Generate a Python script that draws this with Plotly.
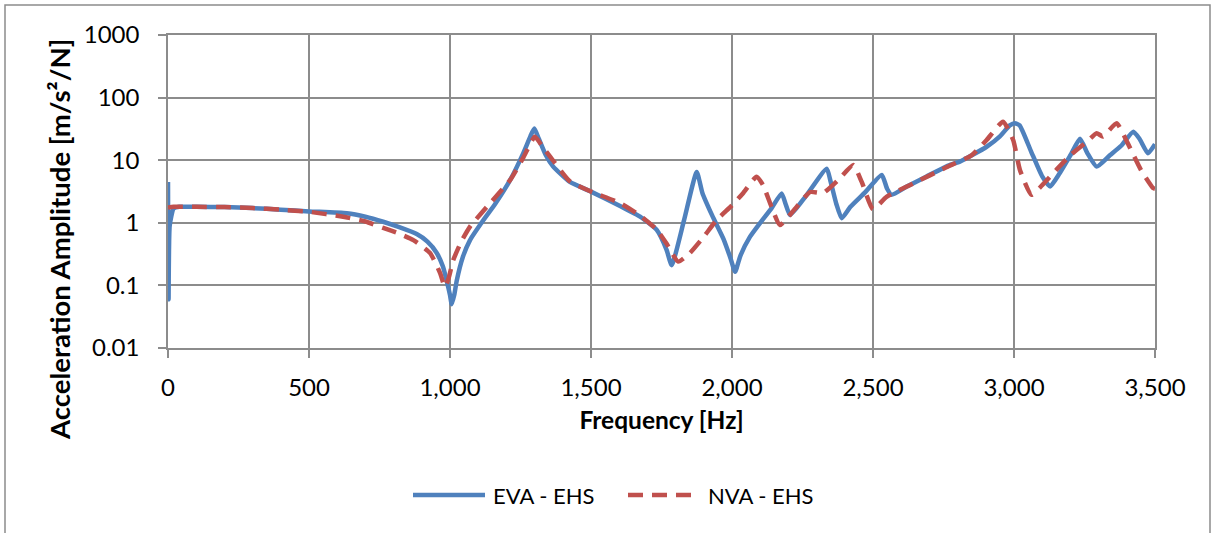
import plotly.graph_objects as go

# ---- data ----
eva_freq = [0, 2, 6, 20, 40, 100, 200, 300, 400, 500, 634, 700, 763, 820, 882, 920, 953, 975, 988,
            1000, 1006, 1015, 1024, 1045, 1071, 1118, 1160, 1213, 1260, 1285, 1299, 1315, 1340, 1366,
            1425, 1500, 1603, 1674, 1733, 1768, 1786, 1830, 1875, 1895, 1930, 1970, 1995, 2011, 2030,
            2064, 2100, 2140, 2176, 2190, 2206, 2260, 2336, 2350, 2370, 2389, 2420, 2470, 2531, 2550,
            2566, 2620, 2690, 2773, 2808, 2903, 2950, 2985, 3003, 3020, 3060, 3100, 3128, 3160, 3200,
            3234, 3260, 3293, 3340, 3380, 3423, 3445, 3475, 3500]
eva_amp = [4.5, 0.06, 0.9, 1.7, 1.8, 1.8, 1.78, 1.72, 1.62, 1.52, 1.42, 1.25, 1.04, 0.85, 0.66, 0.5,
           0.33, 0.2, 0.12, 0.07, 0.05, 0.07, 0.12, 0.28, 0.53, 1.1, 2.0, 4.8, 13, 24, 32, 22, 12, 7.9,
           4.5, 3.15, 1.85, 1.25, 0.77, 0.37, 0.21, 1.1, 6.5, 3.0, 1.3, 0.55, 0.27, 0.165, 0.3,
           0.6, 1.0, 1.7, 2.95, 2.0, 1.33, 2.6, 7.3, 4.5, 2.0, 1.18, 1.8, 3.0, 5.8, 3.5,
           2.8, 3.8, 5.5, 8.4, 9.5, 16.4, 24, 36, 39, 36, 14, 5.5, 3.8, 6, 12,
           22, 13, 7.9, 12, 17, 28.5, 22, 12.9, 18]

nva_freq = [0, 20, 100, 200, 300, 400, 500, 621, 700, 763, 820, 870, 929, 965, 982, 995, 1011, 1040,
            1071, 1142, 1213, 1260, 1301, 1330, 1355, 1425, 1500, 1603, 1674, 1733, 1770, 1809, 1851,
            1900, 1945, 2000, 2040, 2087, 2110, 2140, 2170, 2220, 2277, 2323, 2380, 2430, 2460, 2500,
            2548, 2654, 2760, 2850, 2903, 2961, 2997, 3021, 3062, 3100, 3150, 3200, 3260, 3293, 3315,
            3364, 3400, 3450, 3493, 3500]
nva_amp = [1.75, 1.8, 1.8, 1.78, 1.72, 1.62, 1.5, 1.25, 1.05, 0.83, 0.67, 0.53, 0.33, 0.157, 0.095,
           0.13, 0.25, 0.5, 0.87, 2.05, 4.8, 11, 23.7, 16, 11.4, 4.6, 3.15, 2.07, 1.3, 0.78, 0.45, 0.24,
           0.33, 0.6, 1.1, 1.9, 3.0, 5.45, 4.0, 1.8, 0.92, 1.6, 3.1, 3.0, 5.0, 8.4, 4.5, 1.65,
           2.6, 4.5, 7.7, 12, 21, 41, 21, 7, 2.8, 4.0, 7, 12, 20, 27, 24,
           39, 20, 7, 3.6, 3.5]

series_names = ["EVA - EHS", "NVA - EHS"]
series_colors = ["#4F81BD", "#C0504D"]
x_ticks = [0, 500, 1000, 1500, 2000, 2500, 3000, 3500]
x_tick_text = ["0", "500", "1,000", "1,500", "2,000", "2,500", "3,000", "3,500"]
y_ticks = [0.01, 0.1, 1, 10, 100, 1000]
y_tick_text = ["0.01", "0.1", "1", "10", "100", "1000"]
x_title = "Frequency [Hz]"
y_title = "Acceleration Amplitude [m/s²/N]"

FONT = "Lato"
GRID = "#8c8c8c"
W, H = 1215, 533
L, R, T, B = 168, 60, 35, 185
PW, PH = W - L - R, H - T - B


def px_x(p):
    return (p - L) / PW


def px_y(p):
    return (H - B - p) / PH


RED_DASH = "15px,9px"

fig = go.Figure()
fig.add_trace(go.Scatter(x=eva_freq, y=eva_amp, mode="lines", name=series_names[0],
                         line=dict(color=series_colors[0], width=4.5, shape="spline", smoothing=0.5)))
fig.add_trace(go.Scatter(x=nva_freq, y=nva_amp, mode="lines", name=series_names[1],
                         line=dict(color=series_colors[1], width=4.5, dash=RED_DASH,
                                   shape="spline", smoothing=0.5)))

# custom legend (line samples + labels) and chart frame
legend_y = px_y(495)
shapes = [dict(type="rect", xref="paper", yref="paper",
               x0=px_x(5), x1=px_x(1210), y0=px_y(600), y1=px_y(5),
               line=dict(color=GRID, width=1.5), fillcolor="rgba(0,0,0,0)", layer="below")]
annotations = []
legend_items = [(413, 485, 491, None), (628, 696, 706, RED_DASH)]
for (x0, x1, xt, dash), name, col in zip(legend_items, series_names, series_colors):
    ln = dict(color=col, width=4.5)
    if dash:
        ln["dash"] = dash
    shapes.append(dict(type="line", xref="paper", yref="paper", x0=px_x(x0), x1=px_x(x1),
                       y0=legend_y, y1=legend_y, line=ln))
    annotations.append(dict(text=name, xref="paper", yref="paper", x=px_x(xt), y=legend_y,
                            xanchor="left", yanchor="middle", showarrow=False,
                            font=dict(family=FONT, size=22, color="black")))

# y-axis title placed like the original (centred on the chart area, not the plot area)
annotations.append(dict(text="<b>" + y_title + "</b>", xref="paper", yref="paper",
                        x=px_x(59), y=px_y(240), xanchor="center", yanchor="middle",
                        textangle=-90, showarrow=False,
                        font=dict(family=FONT, size=27.5, color="black")))

fig.update_layout(
    width=W, height=H,
    margin=dict(l=L, r=R, t=T, b=B),
    paper_bgcolor="white", plot_bgcolor="white",
    font=dict(family=FONT, size=24, color="black"),
    showlegend=False,
    xaxis=dict(range=[0, 3500], tickvals=x_ticks, ticktext=x_tick_text,
               showgrid=True, gridcolor=GRID, gridwidth=1.5,
               showline=True, linecolor=GRID, linewidth=1.5, mirror=True,
               ticks="outside", ticklen=8, tickcolor=GRID, tickwidth=1.5,
               ticklabelstandoff=9, zeroline=False, tickfont=dict(family=FONT, size=24),
               title=dict(text="<b>" + x_title + "</b>", standoff=12,
                          font=dict(family=FONT, size=24.5))),
    yaxis=dict(type="log", range=[-2, 3], tickvals=y_ticks, ticktext=y_tick_text,
               showgrid=True, gridcolor=GRID, gridwidth=1.5,
               showline=True, linecolor=GRID, linewidth=1.5, mirror=True,
               ticks="outside", ticklen=8, tickcolor=GRID, tickwidth=1.5,
               ticklabelstandoff=14, zeroline=False, tickfont=dict(family=FONT, size=24)),
    shapes=shapes,
    annotations=annotations,
)

fig.write_html("out.html", config={"displayModeBar": False},
               post_script="document.body.style.margin='0px';document.body.style.overflow='hidden';")
